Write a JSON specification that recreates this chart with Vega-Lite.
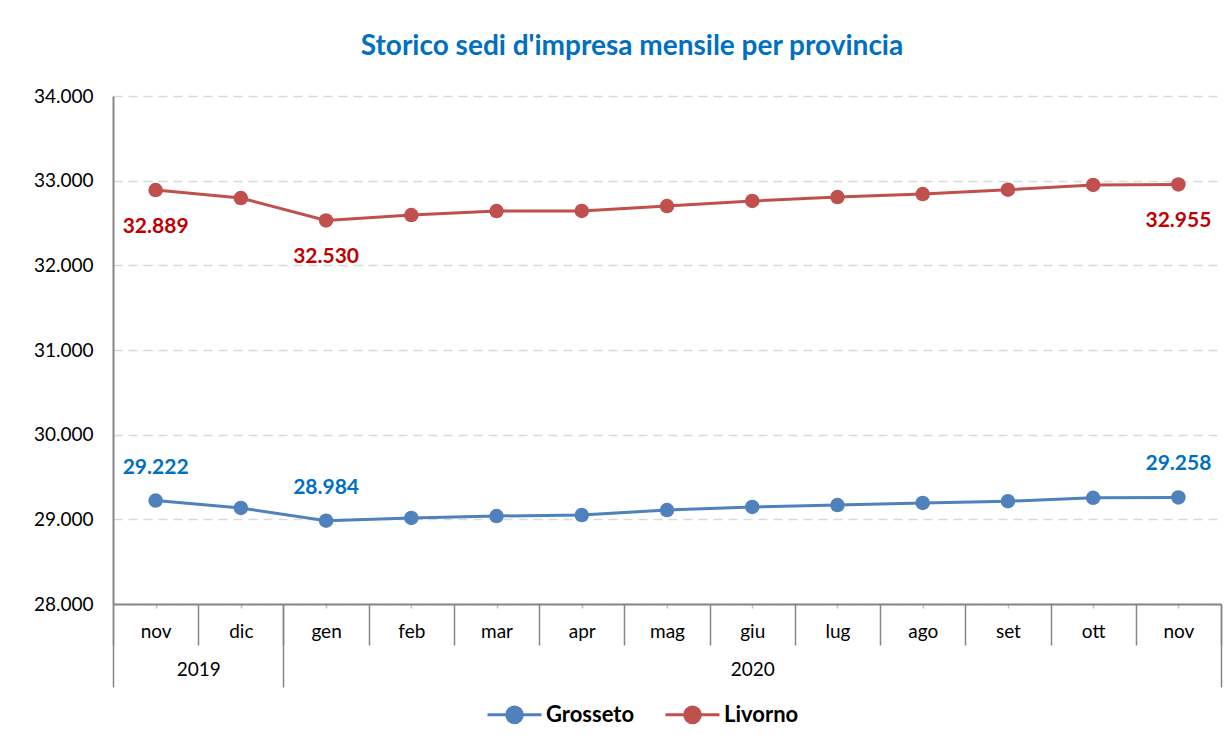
{
  "$schema": "https://vega.github.io/schema/vega-lite/v6.json",
  "width": 1108,
  "height": 508,
  "autosize": "none",
  "padding": {"left": 113, "top": 96, "right": 9, "bottom": 134},
  "background": "#ffffff",
  "config": {
    "locale": {"number": {"decimal": ",", "thousands": ".", "grouping": [3], "currency": ["€", ""]}},
    "font": "Lato",
    "view": {"stroke": null}
  },
  "title": {
    "text": "Storico sedi d'impresa mensile per provincia",
    "font": "Lato",
    "fontSize": 28,
    "fontWeight": "bold",
    "color": "#0070c0",
    "anchor": "middle",
    "dx": -35,
    "offset": 26
  },
  "datasets": {
    "serie": [
      {"periodo": "nov 2019", "provincia": "Grosseto", "valore": 29222},
      {"periodo": "dic 2019", "provincia": "Grosseto", "valore": 29134},
      {"periodo": "gen 2020", "provincia": "Grosseto", "valore": 28984},
      {"periodo": "feb 2020", "provincia": "Grosseto", "valore": 29016},
      {"periodo": "mar 2020", "provincia": "Grosseto", "valore": 29039},
      {"periodo": "apr 2020", "provincia": "Grosseto", "valore": 29051},
      {"periodo": "mag 2020", "provincia": "Grosseto", "valore": 29110},
      {"periodo": "giu 2020", "provincia": "Grosseto", "valore": 29146},
      {"periodo": "lug 2020", "provincia": "Grosseto", "valore": 29169},
      {"periodo": "ago 2020", "provincia": "Grosseto", "valore": 29193},
      {"periodo": "set 2020", "provincia": "Grosseto", "valore": 29214},
      {"periodo": "ott 2020", "provincia": "Grosseto", "valore": 29254},
      {"periodo": "nov 2020", "provincia": "Grosseto", "valore": 29258},
      {"periodo": "nov 2019", "provincia": "Livorno", "valore": 32889},
      {"periodo": "dic 2019", "provincia": "Livorno", "valore": 32795},
      {"periodo": "gen 2020", "provincia": "Livorno", "valore": 32530},
      {"periodo": "feb 2020", "provincia": "Livorno", "valore": 32594},
      {"periodo": "mar 2020", "provincia": "Livorno", "valore": 32641},
      {"periodo": "apr 2020", "provincia": "Livorno", "valore": 32642},
      {"periodo": "mag 2020", "provincia": "Livorno", "valore": 32700},
      {"periodo": "giu 2020", "provincia": "Livorno", "valore": 32760},
      {"periodo": "lug 2020", "provincia": "Livorno", "valore": 32807},
      {"periodo": "ago 2020", "provincia": "Livorno", "valore": 32842},
      {"periodo": "set 2020", "provincia": "Livorno", "valore": 32893},
      {"periodo": "ott 2020", "provincia": "Livorno", "valore": 32950},
      {"periodo": "nov 2020", "provincia": "Livorno", "valore": 32955}
    ],
    "anni": [
      {"anno": "2019", "da": 0, "a": 2},
      {"anno": "2020", "da": 2, "a": 13}
    ]
  },
  "resolve": {"scale": {"x": "independent"}},
  "layer": [
    {
      "data": {"name": "serie"},
      "encoding": {
        "x": {
          "field": "periodo",
          "type": "ordinal",
          "sort": ["nov 2019", "dic 2019", "gen 2020", "feb 2020", "mar 2020", "apr 2020", "mag 2020", "giu 2020", "lug 2020", "ago 2020", "set 2020", "ott 2020", "nov 2020"],
          "scale": {"type": "point", "padding": 0.5},
          "axis": {
            "orient": "bottom",
            "title": null,
            "labelExpr": "split(datum.label, ' ')[0]",
            "labelAngle": 0,
            "labelFont": "Lato",
            "labelFontSize": 19,
            "labelColor": "#000000",
            "labelPadding": 14,
            "tickSize": 4,
            "tickColor": "#bfbfbf",
            "tickWidth": 1.5,
            "domainColor": "#868686",
            "domainWidth": 2,
            "grid": false
          }
        },
        "y": {
          "field": "valore",
          "type": "quantitative",
          "scale": {"domain": [28000, 34000], "nice": false, "zero": false},
          "axis": {
            "title": null,
            "values": [28000, 29000, 30000, 31000, 32000, 33000, 34000],
            "format": ",.0f",
            "labelFont": "Lato",
            "labelFontSize": 19,
            "labelColor": "#000000",
            "labelPadding": 20,
            "ticks": false,
            "domainColor": "#868686",
            "domainWidth": 2,
            "grid": true,
            "gridColor": "#d9d9d9",
            "gridDash": [9, 6],
            "gridWidth": 1.5
          }
        },
        "color": {
          "field": "provincia",
          "type": "nominal",
          "scale": {"domain": ["Grosseto", "Livorno"], "range": ["#4f81bd", "#c0504d"]},
          "legend": {
            "title": null,
            "orient": "none",
            "legendX": 373,
            "legendY": 590,
            "direction": "horizontal",
            "symbolType": "M-1,0H1M0.29,0A0.29,0.29,0,1,1,-0.29,0A0.29,0.29,0,1,1,0.29,0Z",
            "symbolSize": 2916,
            "symbolStrokeWidth": 3,
            "labelFont": "Lato",
            "labelFontSize": 22,
            "labelFontWeight": "bold",
            "labelColor": "#000000",
            "labelOffset": 3,
            "columnPadding": 24,
            "encode": {
              "symbols": {
                "update": {
                  "fill": {"scale": "color", "field": "value"},
                  "stroke": {"scale": "color", "field": "value"},
                  "fillOpacity": {"value": 1},
                  "strokeWidth": {"value": 3}
                }
              }
            }
          }
        }
      },
      "layer": [
        {"mark": {"type": "line", "strokeWidth": 3}},
        {"mark": {"type": "point", "filled": true, "size": 210, "opacity": 1}},
        {
          "transform": [
            {"filter": "datum.provincia == 'Livorno'"},
            {"filter": "datum.periodo == 'nov 2019' || datum.periodo == 'gen 2020' || datum.periodo == 'nov 2020'"}
          ],
          "mark": {"type": "text", "dy": 37, "font": "Lato", "fontSize": 21, "fontWeight": "bold"},
          "encoding": {
            "text": {"field": "valore", "type": "quantitative", "format": ",.0f"},
            "color": {"value": "#c00000"}
          }
        },
        {
          "transform": [
            {"filter": "datum.provincia == 'Grosseto'"},
            {"filter": "datum.periodo == 'nov 2019' || datum.periodo == 'gen 2020' || datum.periodo == 'nov 2020'"}
          ],
          "mark": {"type": "text", "dy": -33, "font": "Lato", "fontSize": 21, "fontWeight": "bold"},
          "encoding": {
            "text": {"field": "valore", "type": "quantitative", "format": ",.0f"},
            "color": {"value": "#0070c0"}
          }
        }
      ]
    },
    {
      "data": {"name": "anni"},
      "mark": {"type": "rule", "opacity": 0},
      "encoding": {
        "x": {
          "field": "da",
          "type": "quantitative",
          "scale": {"domain": [0, 13], "nice": false, "zero": false},
          "axis": {
            "orient": "bottom",
            "title": null,
            "values": [0, 1, 2, 3, 4, 5, 6, 7, 8, 9, 10, 11, 12, 13],
            "labels": false,
            "domain": false,
            "grid": false,
            "tickSize": 41,
            "tickColor": "#868686",
            "tickWidth": 1.5
          }
        }
      }
    },
    {
      "data": {"name": "anni"},
      "mark": {"type": "rule", "opacity": 0},
      "encoding": {
        "x": {
          "field": "a",
          "type": "quantitative",
          "scale": {"domain": [0, 13], "nice": false, "zero": false},
          "axis": {
            "orient": "bottom",
            "title": null,
            "values": [0, 2, 13],
            "labels": false,
            "domain": false,
            "grid": false,
            "tickSize": 83,
            "tickColor": "#868686",
            "tickWidth": 1.5
          }
        }
      }
    },
    {
      "data": {"name": "anni"},
      "mark": {"type": "rule", "opacity": 0},
      "encoding": {
        "x": {
          "field": "da",
          "type": "quantitative",
          "scale": {"domain": [0, 13], "nice": false, "zero": false},
          "axis": {
            "orient": "bottom",
            "title": null,
            "values": [1, 7.5],
            "labelExpr": "datum.value < 5 ? '2019' : '2020'",
            "labelFont": "Lato",
            "labelFontSize": 19,
            "labelColor": "#000000",
            "labelPadding": 56,
            "ticks": false,
            "domain": false,
            "grid": false
          }
        }
      }
    }
  ]
}
